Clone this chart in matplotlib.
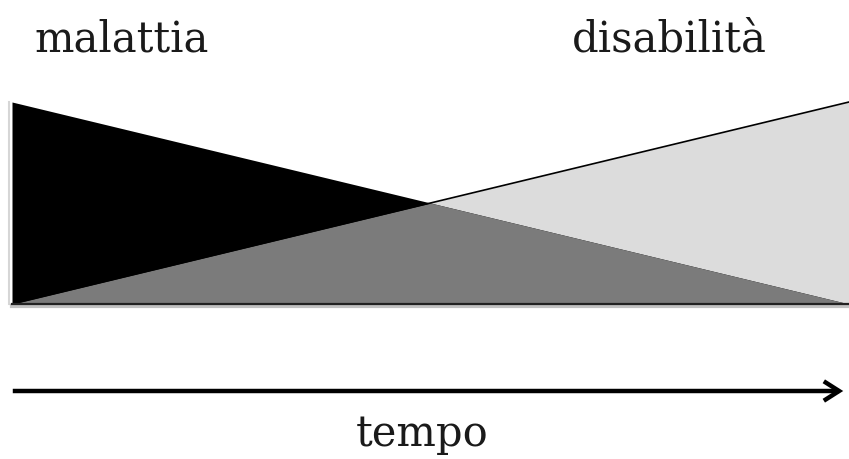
import matplotlib.pyplot as plt
import numpy as np

# relative share over time (0 = start, 1 = end)
tempo = [0.0, 1.0]
malattia = [1.0, 0.0]
disabilita = [0.0, 1.0]
labels = ["malattia", "disabilità", "tempo"]

W, H = 849, 460
fig = plt.figure(figsize=(W / 100, H / 100), dpi=100)

# axes box in pixels: x 12..849, y 103..305 (from top)
x0, x1, ytop, ybot = 12, 849, 103, 305
ax = fig.add_axes([x0 / W, (H - ybot) / H, (x1 - x0) / W, (ybot - ytop) / H])
ax.set_xlim(0, 1)
ax.set_ylim(0, 1)
ax.axis("off")

tt = np.linspace(0, 1, 401)
m = np.interp(tt, tempo, malattia)
d = np.interp(tt, tempo, disabilita)
low = np.minimum(m, d)

ax.fill_between(tt, 0, d, color="#dcdcdc", lw=0)
ax.fill_between(tt, 0, m, color="black", lw=0)
ax.fill_between(tt, 0, low, color="#7b7b7b", lw=0)

# top edge of disability triangle
ax.plot(tempo, disabilita, color="black", lw=1.2, clip_on=False)
# baseline with a soft shadow
ax.plot([0, 1], [-0.012, -0.012], color="#9a9a9a", lw=3, clip_on=False, alpha=0.6)
ax.plot([0, 1], [0, 0], color="#222222", lw=1.6, clip_on=False)
ax.plot([-0.004, -0.004], [0, 1], color="#bbbbbb", lw=1.5, clip_on=False, alpha=0.6)

font = dict(family="DejaVu Serif", fontsize=30, color="#1a1a1a")
fig.text(122 / W, 1 - 52 / H, labels[0], ha="center", va="baseline", **font)
fig.text(669 / W, 1 - 52 / H, labels[1], ha="center", va="baseline", **font)
fig.text(422 / W, 1 - 446 / H, labels[2], ha="center", va="baseline", **font)

# time arrow
fig.add_artist(plt.matplotlib.patches.FancyArrowPatch(
    (10 / W, 1 - 392 / H), (846 / W, 1 - 392 / H),
    transform=fig.transFigure, arrowstyle="->,head_length=11,head_width=7",
    mutation_scale=1, lw=3.2, color="black", capstyle="butt", joinstyle="miter"))

fig.savefig("out.png", dpi=100, facecolor="white")
